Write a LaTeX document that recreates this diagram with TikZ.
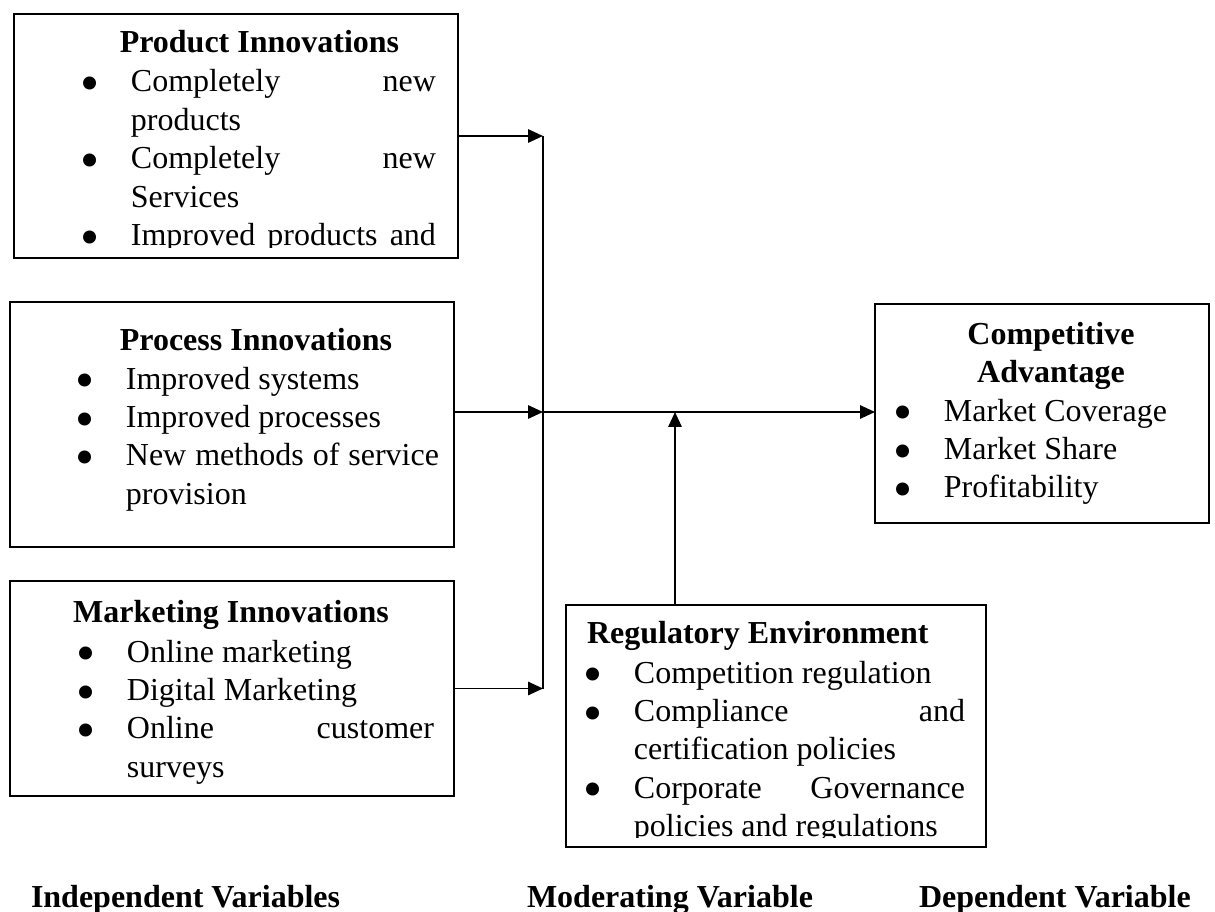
\documentclass[tikz,border=0pt]{standalone}
\usepackage{fontspec}
\setmainfont{Liberation Serif}
\usetikzlibrary{arrows.meta}
\hyphenpenalty=10000
\exhyphenpenalty=10000
\tolerance=1000
\emergencystretch=5em
\newlength{\bulind}
\setlength{\bulind}{17.6pt}
\newcommand{\bigbul}{\hspace{-1.5pt}\raisebox{-3.6pt}[0pt][0pt]{\scalebox{1.7}{\textbullet}}}
\newcommand{\bitem}[1]{\hangindent=\bulind\hangafter=1\noindent\makebox[\bulind][l]{\bigbul}#1\par}

\begin{document}
\begin{tikzpicture}[x=0.375pt, y=-0.375pt,
  every node/.style={inner sep=0pt, outer sep=0pt, font=\fontsize{12pt}{14.4pt}\selectfont},
  box/.style={draw, line width=1pt},
  head/.style={font=\fontsize{12pt}{14.4pt}\selectfont\bfseries, anchor=base},
  bullets/.style={anchor=base west, text width=#1, align=justify},
  arr/.style={line width=0.7pt, -{Triangle[length=5.6pt, width=5pt]}}]
\useasboundingbox (0,0) rectangle (1215,912);

\node[box, minimum width=166.5pt, minimum height=91.5pt] (prod) at (236,136) {};
\node[box, minimum width=166.5pt, minimum height=91.875pt] (proc) at (232,424.5) {};
\node[box, minimum width=166.5pt, minimum height=80.625pt] (mark) at (232,688.5) {};
\node[box, minimum width=125.25pt, minimum height=82.125pt] (comp) at (1042,413.5) {};
\node[box, minimum width=157.5pt, minimum height=90.75pt] (reg) at (776,726) {};

\node[head] (prodhead) at (259.5,53) {Product Innovations};
\node[head] (prochead) at (256,350) {Process Innovations};
\node[head] (markhead) at (231,622) {Marketing Innovations};
\node[head, anchor=base west] (reghead) at (587,643) {Regulatory Environment};
\node[head, text width=112.5pt, align=center] (comphead) at (1051,344) {Competitive\\Advantage};

\begin{scope}
\clip (prod.north west) rectangle (458,248);
\node[bullets=132pt] (prodlist) at (84,92) {\bitem{Completely new products}\bitem{Completely new Services}\bitem{\parfillskip=0pt Improved products and}};
\end{scope}
\node[bullets=135pt] (proclist) at (79,389) {\bitem{Improved systems}\bitem{Improved processes}\bitem{New methods of service provision}};
\node[bullets=132.75pt] (marklist) at (80,662) {\bitem{Online marketing}\bitem{Digital Marketing}\bitem{Online customer surveys}};
\node[bullets=112.5pt] (complist) at (897,421) {\bitem{Market Coverage}\bitem{Market Share}\bitem{Profitability}};
\begin{scope}
\clip (reg.north west) rectangle (986,837);
\node[bullets=141.75pt] (reglist) at (587,683) {\bitem{Competition regulation}\bitem{Compliance and certification policies}\bitem{Corporate Governance policies and regulations}};
\end{scope}

\node[head, anchor=base west] (indep) at (31,907) {Independent Variables};
\node[head, anchor=base west] (moder) at (527,907) {Moderating Variable};
\node[head, anchor=base west] (depen) at (919,907) {Dependent Variable};

\coordinate (jt) at (543,136);
\coordinate (jm) at (543,412);
\coordinate (jb) at (543,688.5);
\coordinate (mod) at (675,412);

\draw[arr] (prod.east) -- (jt);
\draw[line width=0.7pt] (jt) -- (jb);
\draw[arr] (proc.east |- jm) -- (jm);
\draw[arr] (mark.east) -- (jb);
\draw[arr] (jm) -- (comp.west |- jm);
\draw[arr] (reg.north -| mod) -- (mod);
\end{tikzpicture}
\end{document}
